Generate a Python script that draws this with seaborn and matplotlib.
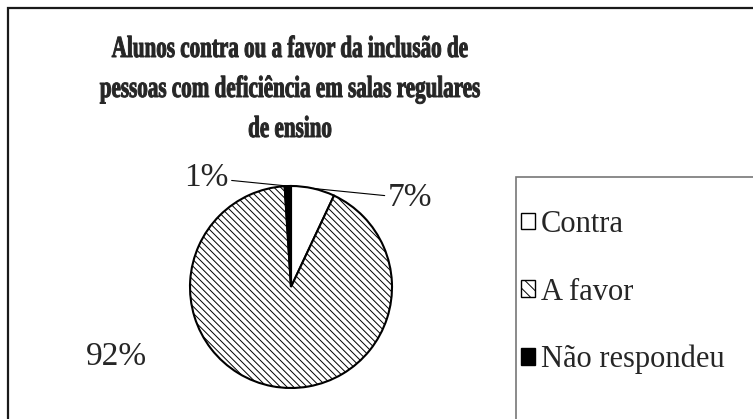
import matplotlib
matplotlib.use("Agg")
import matplotlib.pyplot as plt
import matplotlib.patches as mpatches
from matplotlib.patheffects import AbstractPathEffect
from matplotlib.transforms import Affine2D
import seaborn as sns
import numpy as np

# Dados do gráfico
categorias = ['Contra', 'A favor', 'Não respondeu']
valores = [7, 92, 1]
rotulos = ['7%', '92%', '1%']
titulo = ['Alunos contra ou a favor da inclusão de',
          'pessoas com deficiência em salas regulares',
          'de ensino']


class Condensar(AbstractPathEffect):
    """Estreita o texto na horizontal (fonte 'condensada') e engrossa o traço."""

    def __init__(self, fator, traco=0.0):
        super().__init__()
        self.fator = fator
        self.traco = traco

    def draw_path(self, renderer, gc, tpath, affine, rgbFace=None):
        ext = tpath.get_extents()
        cx = (ext.x0 + ext.x1) / 2
        t = Affine2D().translate(-cx, 0).scale(self.fator, 1).translate(cx, 0) + affine
        gc0 = renderer.new_gc()
        gc0.copy_properties(gc)
        gc0.set_linewidth(self.traco)
        renderer.draw_path(gc0, tpath, t, rgbFace)
        gc0.restore()


sns.set_style("white")
plt.rcParams['font.family'] = ['Liberation Serif', 'DejaVu Serif']
plt.rcParams['hatch.linewidth'] = 0.7

W, H = 753, 419
fig = plt.figure(figsize=(W / 100, H / 100), dpi=100)
fig.patch.set_facecolor('white')

# moldura externa e caixa da legenda (cortadas pela borda da figura)
fig.patches.append(mpatches.Rectangle((8 / W, -0.1), 1.2, 1.1 - 8 / H,
                                      transform=fig.transFigure, fill=False,
                                      edgecolor='#1a1a1a', lw=1.6))
fig.patches.append(mpatches.Rectangle((516 / W, -0.1), 0.5, 0.1 + 1 - 177 / H,
                                      transform=fig.transFigure, fill=False,
                                      edgecolor='#777777', lw=1.2))

# título em três linhas
for i, linha in enumerate(titulo):
    fig.text(290 / W, 1 - (57 + 40 * i) / H, linha, ha='center', va='baseline',
             fontsize=22, fontweight='bold', path_effects=[Condensar(0.69, 0.7)])

# pizza
cx, cy, r = 291, 287, 101
ax = fig.add_axes([(cx - r) / W, (H - cy - r) / H, 2 * r / W, 2 * r / H])
cores = ['white', 'white', 'black']
hachuras = [None, '\\\\\\\\\\', None]
wedges, _ = ax.pie(valores, colors=cores, startangle=90, counterclock=False,
                   wedgeprops=dict(edgecolor='black', linewidth=1.5))
for w, h in zip(wedges, hachuras):
    if h:
        w.set_hatch(h)
ax.set_xlim(-1, 1)
ax.set_ylim(-1, 1)
ax.axis('off')

# posições dos rótulos (em raios a partir do centro)
pos_rotulos = {'7%': (0.96, 0.88, 'left'),
               '92%': (-1.73, -0.69, 'center'),
               '1%': (-0.62, 1.08, 'right')}
for w, rot in zip(wedges, rotulos):
    ang = np.deg2rad((w.theta1 + w.theta2) / 2)
    borda = (np.cos(ang), np.sin(ang))
    tx, ty, ha = pos_rotulos[rot]
    if rot == '92%':
        ax.text(tx, ty, rot, ha=ha, va='center', fontsize=24)
    else:
        ax.annotate(rot, xy=borda, xytext=(tx, ty), ha=ha, va='center',
                    fontsize=24, annotation_clip=False,
                    arrowprops=dict(arrowstyle='-', lw=0.8, color='black',
                                    shrinkA=0, shrinkB=0))

# legenda
handles = [mpatches.Patch(facecolor='white', edgecolor='black', lw=1),
           mpatches.Patch(facecolor='white', edgecolor='black', lw=1, hatch='\\\\\\'),
           mpatches.Patch(facecolor='black', edgecolor='black', lw=1)]
fig.legend(handles, categorias, loc='upper left',
           bbox_to_anchor=(521 / W, 1 - 210 / H), frameon=False, fontsize=22,
           handlelength=0.45, handleheight=0.45, handletextpad=0.2,
           labelspacing=1.26, borderpad=0, borderaxespad=0)

fig.savefig('out.png', dpi=100)
